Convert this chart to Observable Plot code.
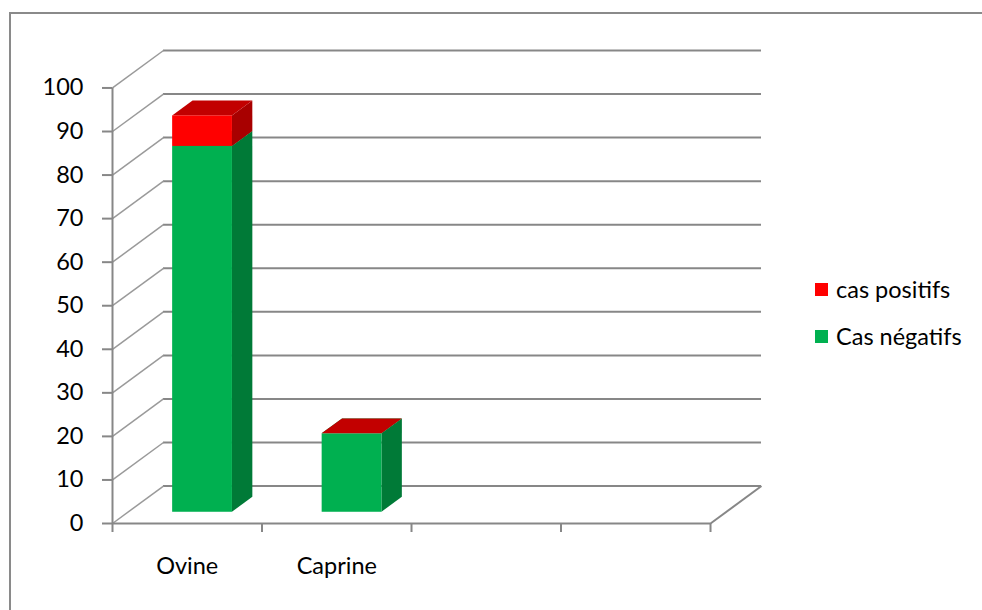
<!DOCTYPE html>
<html>
<head>
<meta charset="utf-8">
<script src="https://cdn.jsdelivr.net/npm/d3@7"></script>
<script src="https://cdn.jsdelivr.net/npm/@observablehq/plot@0.6"></script>
<style>
  body { margin: 0; background: #fff; overflow: hidden; font-family: Lato, "Noto Sans", sans-serif; }
  #wrap { position: relative; width: 982px; height: 610px; }
  #chart { position: absolute; left: 0; top: 0; }
  #border { position: absolute; left: 9px; top: 12px; width: 1000px; height: 700px; border: 2px solid #8a8a8a; pointer-events: none; }
  #legend { position: absolute; left: 815px; top: 276px; font-size: 23.5px; color: #000; }
  .item { display: flex; align-items: center; height: 26px; margin-bottom: 21px; white-space: nowrap; }
  .sw { width: 13px; height: 13px; margin-right: 8px; }
</style>
</head>
<body>
<div id="wrap">
  <div id="chart"></div>
  <div id="border"></div>
  <div id="legend"></div>
</div>
<script>
// Categories along the floor (four slots, the last two left blank)
const categories = ["Ovine", "Caprine", "", ""];
// Stacked values per category
const casNegatifs = [84, 18];
const casPositifs = [7, 0];
// Value axis ticks
const yTicks = [0, 10, 20, 30, 40, 50, 60, 70, 80, 90, 100];
// Legend entries, top to bottom
const legendLabels = ["cas positifs", "Cas négatifs"];

// 3D look: depth of the walls expressed in data units
const DX = 0.341;   // horizontal depth shift (category units)
const DY = 8.6;     // vertical depth shift (value units)
const D0 = 0.3, D1 = 0.7;   // bar front and back depth fractions
const BAR_W = 0.40;         // bar width (category units)

const gray = "#878787";
const FONT = 23.5;

const series = [
  {key: "neg", values: casNegatifs, front: "#00B050", side: "#007A37", top: "#00953F"},
  {key: "pos", values: casPositifs, front: "#FF0000", side: "#A80000", top: "#C20000"}
];

// Stack segments
const segments = [];
casNegatifs.forEach((_, i) => {
  let base = 0;
  for (const s of series) {
    const v = s.values[i];
    segments.push({i, s: s.key, y0: base, y1: base + v, xl: i + 0.5 - BAR_W / 2, xr: i + 0.5 + BAR_W / 2});
    base += v;
  }
});

const sidePts = segments.flatMap(g => [D0, D1].map(d => ({
  i: g.i, s: g.s, x: g.xr + d * DX, y1: g.y0 + d * DY, y2: g.y1 + d * DY
})));
const topPts = segments.flatMap(g => [D0, D1].map(d => ({
  i: g.i, s: g.s, y: g.y1 + d * DY, x1: g.xl + d * DX, x2: g.xr + d * DX
})));

const barMarks = series.flatMap(s => [
  Plot.areaY(sidePts.filter(p => p.s === s.key), {x: "x", y1: "y1", y2: "y2", z: "i", fill: s.side}),
  Plot.areaX(topPts.filter(p => p.s === s.key), {y: "y", x1: "x1", x2: "x2", z: "i", fill: s.top}),
  Plot.rect(segments.filter(g => g.s === s.key), {
    x1: g => g.xl + D0 * DX, x2: g => g.xr + D0 * DX,
    y1: g => g.y0 + D0 * DY, y2: g => g.y1 + D0 * DY,
    fill: s.front
  })
]);

const n = categories.length;

const chart = Plot.plot({
  width: 982,
  height: 610,
  marginLeft: 112,
  marginRight: 221,
  marginTop: 50,
  marginBottom: 87,
  style: {background: "transparent", fontFamily: "Lato, 'Noto Sans', sans-serif", color: "#000"},
  x: {type: "linear", domain: [0, n + DX], axis: null},
  y: {type: "linear", domain: [0, 100 + DY], axis: null},
  marks: [
    // back wall gridlines
    Plot.ruleY(yTicks, {y: d => d + DY, x1: DX, x2: n + DX, stroke: gray, strokeWidth: 2}),
    // side wall diagonals
    Plot.link(yTicks, {x1: 0, y1: d => d, x2: DX, y2: d => d + DY, stroke: "#9a9a9a", strokeWidth: 1.5}),
    // floor edges
    Plot.ruleY([0], {x1: 0, x2: n, stroke: gray, strokeWidth: 2}),
    Plot.link([0], {x1: n, y1: 0, x2: n + DX, y2: DY, stroke: gray, strokeWidth: 2}),
    // front value axis
    Plot.ruleX([0], {y1: 0, y2: 100, stroke: gray, strokeWidth: 2}),
    Plot.axisY({ticks: yTicks, tickSize: 10, tickPadding: 19, fontSize: FONT, stroke: gray, strokeWidth: 2, fill: "#000"}),
    // category axis ticks and labels
    Plot.axisX({ticks: d3.range(n + 1), tickSize: 9, tickFormat: () => "", stroke: gray, strokeWidth: 2}),
    Plot.axisX({ticks: d3.range(n).map(i => i + 0.5), tickSize: 0, tickPadding: 34, fontSize: FONT, fill: "#000",
      tickFormat: d => categories[Math.floor(d)]}),
    ...barMarks
  ]
});
document.getElementById("chart").append(chart);

// Legend
const legendColors = [series[1].front, series[0].front];
const legend = document.getElementById("legend");
legendLabels.forEach((label, k) => {
  const item = document.createElement("div");
  item.className = "item";
  const sw = document.createElement("span");
  sw.className = "sw";
  sw.style.background = legendColors[k];
  const t = document.createElement("span");
  t.textContent = label;
  item.append(sw, t);
  legend.append(item);
});
</script>
</body>
</html>
